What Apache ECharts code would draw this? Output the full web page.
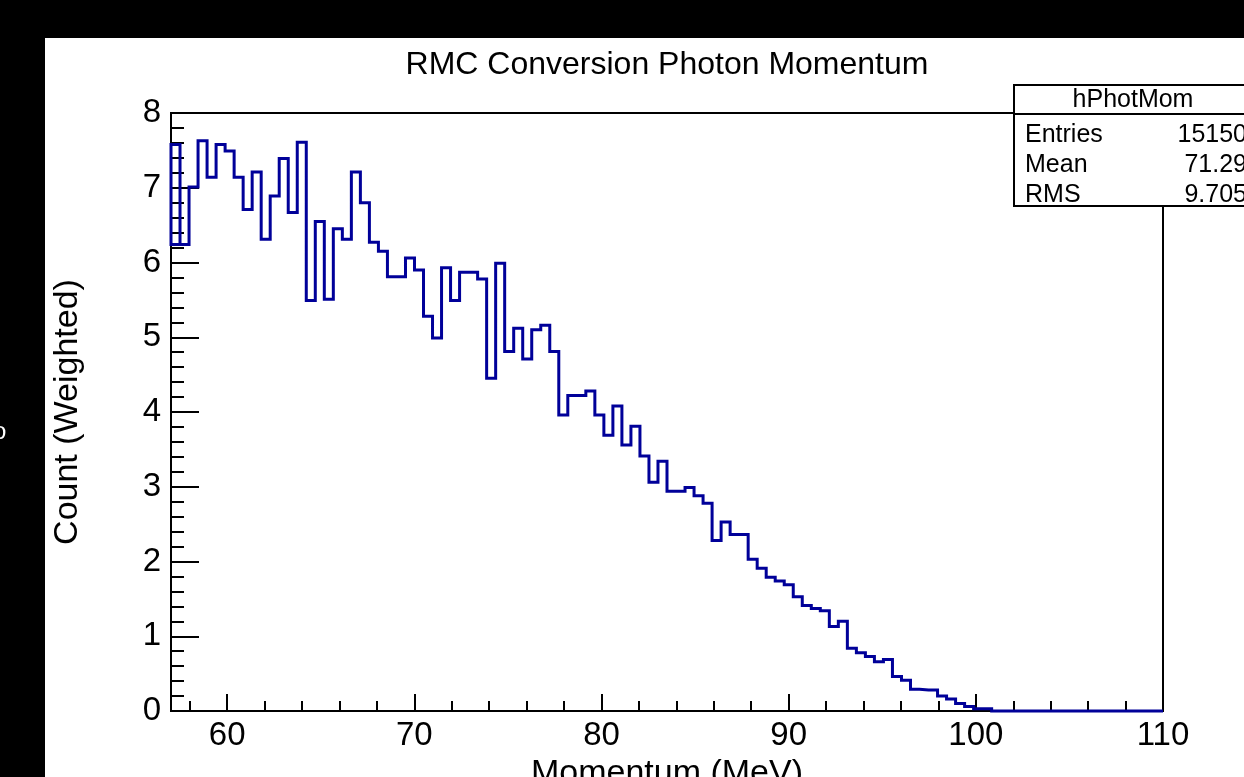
<!DOCTYPE html>
<html>
<head>
<meta charset="utf-8">
<script src="https://cdn.jsdelivr.net/npm/echarts@6/dist/echarts.min.js"></script>
<style>
html,body{margin:0;padding:0;background:#000;}
#chart{width:1244px;height:777px;}
</style>
</head>
<body>
<div id="chart"></div>
<script>
// Histogram definition
const binLow = 57;
const binHigh = 110;
const counts = [
  7.58, 6.24, 7.01, 7.63, 7.14, 7.58, 7.49, 7.14, 6.71, 7.21,
  6.31, 6.89, 7.39, 6.67, 7.61, 5.49, 6.55, 5.51, 6.45, 6.31,
  7.21, 6.80, 6.27, 6.15, 5.81, 5.81, 6.06, 5.90, 5.28, 4.99,
  5.93, 5.49, 5.87, 5.87, 5.78, 4.45, 5.99, 4.81, 5.12, 4.71,
  5.10, 5.16, 4.81, 3.96, 4.22, 4.22, 4.28, 3.96, 3.69, 4.08,
  3.56, 3.81, 3.41, 3.06, 3.34, 2.94, 2.94, 2.99, 2.88, 2.78,
  2.28, 2.53, 2.36, 2.36, 2.03, 1.91, 1.79, 1.74, 1.69, 1.53,
  1.41, 1.37, 1.34, 1.13, 1.20, 0.84, 0.78, 0.73, 0.66, 0.69,
  0.46, 0.41, 0.29, 0.28, 0.28, 0.20, 0.16, 0.10, 0.06, 0.03,
  0.03, 0, 0, 0, 0, 0, 0, 0, 0, 0,
  0, 0, 0, 0, 0, 0, 0, 0, 0, 0
];
const xMajorTicks = [60, 70, 80, 90, 100, 110];
const xMinorTicks = [58, 62, 64, 66, 68, 72, 74, 76, 78, 82, 84, 86, 88, 92, 94, 96, 98, 102, 104, 106, 108];
const yMin = 0, yMax = 8;
const statsName = 'hPhotMom';
const statsLabels = ['Entries', 'Mean', 'RMS'];
const statsValues = ['15150', '71.29', '9.705'];
const titleText = 'RMC Conversion Photon Momentum';
const xTitle = 'Momentum (MeV)';
const yTitle = 'Count (Weighted)';

// Build step outline from bin contents
const nBins = counts.length;
const bw = (binHigh - binLow) / nBins;
const pts = [];
pts.push([binLow + bw, counts[1]]);
pts.push([binLow, counts[1]]);
pts.push([binLow, counts[0]]);
for (let i = 0; i < nBins; i++) {
  pts.push([binLow + i * bw, counts[i]]);
  pts.push([binLow + (i + 1) * bw, counts[i]]);
}

const FONT = 'Liberation Sans, Arial, Helvetica, sans-serif';
const chart = echarts.init(document.getElementById('chart'), null, {renderer: 'canvas'});

const statsGraphics = [
  {type: 'rect', shape: {x: 1014, y: 85, width: 250, height: 121},
   style: {fill: '#fff', stroke: '#000', lineWidth: 2}, z: 100},
  {type: 'line', shape: {x1: 1014, y1: 114, x2: 1264, y2: 114},
   style: {stroke: '#000', lineWidth: 2}, z: 101},
  {type: 'text', x: 1133, y: 100, z: 102,
   style: {text: statsName, fill: '#000', font: '25px ' + FONT, textAlign: 'center', textVerticalAlign: 'middle'}}
];
statsLabels.forEach((lab, i) => {
  statsGraphics.push({type: 'text', x: 1025, y: 135 + i * 30, z: 102,
    style: {text: lab, fill: '#000', font: '25px ' + FONT, textAlign: 'left', textVerticalAlign: 'middle'}});
  statsGraphics.push({type: 'text', x: 1247, y: 135 + i * 30, z: 102,
    style: {text: statsValues[i], fill: '#000', font: '25px ' + FONT, textAlign: 'right', textVerticalAlign: 'middle'}});
});

const option = {
  animation: false,
  backgroundColor: 'transparent',
  graphic: [
    {type: 'rect', shape: {x: 45, y: 38, width: 1199, height: 739}, style: {fill: '#fff'}, z: -100, silent: true},
    {type: 'text', x: 667, y: 65, z: 10,
     style: {text: titleText, fill: '#000', font: '32px ' + FONT, textAlign: 'center', textVerticalAlign: 'middle'}},
    {type: 'text', x: -7, y: 432, z: 10,
     style: {text: 'o', fill: '#fff', font: '24px ' + FONT, textAlign: 'left', textVerticalAlign: 'middle'}}
  ].concat(statsGraphics),
  grid: {left: 171, right: 81, top: 113, bottom: 66, show: true, borderColor: '#000', borderWidth: 2,
         backgroundColor: 'transparent', containLabel: false, outerBoundsMode: 'none'},
  xAxis: [
    {
      type: 'value', min: binLow, max: binHigh,
      name: xTitle, nameLocation: 'middle', nameGap: 42,
      nameTextStyle: {color: '#000', fontSize: 34, fontFamily: FONT},
      axisLine: {show: true, onZero: false, lineStyle: {color: '#000', width: 2}},
      axisTick: {show: true, inside: true, length: 17, customValues: xMajorTicks, lineStyle: {color: '#000', width: 2}},
      axisLabel: {show: true, customValues: xMajorTicks, color: '#000', fontSize: 33, fontFamily: FONT, margin: 8},
      splitLine: {show: false}
    },
    {
      type: 'value', min: binLow, max: binHigh, position: 'bottom', gridIndex: 0,
      axisLine: {show: false, onZero: false},
      axisTick: {show: true, inside: true, length: 10, customValues: xMinorTicks, lineStyle: {color: '#000', width: 2}},
      axisLabel: {show: false},
      splitLine: {show: false}
    }
  ],
  yAxis: {
    type: 'value', min: yMin, max: yMax, interval: 1,
    name: yTitle, nameLocation: 'middle', nameGap: 86, nameRotate: 90,
    nameTextStyle: {color: '#000', fontSize: 34, fontFamily: FONT},
    axisLine: {show: true, onZero: false, lineStyle: {color: '#000', width: 2}},
    axisTick: {show: true, inside: true, length: 28, lineStyle: {color: '#000', width: 2}},
    minorTick: {show: true, splitNumber: 5, length: 13, lineStyle: {color: '#000', width: 2}},
    axisLabel: {color: '#000', fontSize: 33, fontFamily: FONT, margin: 10, padding: [6, 0, 0, 0]},
    splitLine: {show: false},
    minorSplitLine: {show: false}
  },
  series: [{
    type: 'line',
    data: pts,
    showSymbol: false,
    symbol: 'none',
    clip: false,
    lineStyle: {color: '#000099', width: 3, join: 'miter'},
    z: 5
  }]
};
chart.setOption(option);
</script>
</body>
</html>
